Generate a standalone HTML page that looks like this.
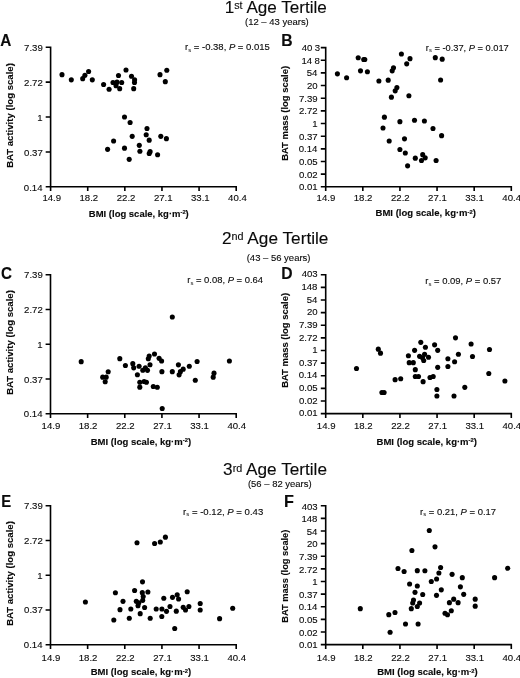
<!DOCTYPE html><html><head><meta charset="utf-8"><style>html,body{margin:0;padding:0;background:#fff}svg{display:block;filter:grayscale(1)}text{font-family:"Liberation Sans",sans-serif;fill:#0a0a0a;stroke:#0a0a0a;stroke-width:0.12px}</style></head><body>
<svg width="520" height="678" viewBox="0 0 520 678">
<rect width="520" height="678" fill="#fff"/>
<text transform="translate(224.71 12.90) scale(1.0309 1)" font-size="16.6">1<tspan font-size="10.4" dy="-3.9">st</tspan><tspan dy="3.9"> Age Tertile</tspan></text>
<text transform="translate(245.00 25.00) scale(1.0097 1)" font-size="9.4">(12 – 43 years)</text>
<text transform="translate(221.97 244.10) scale(1.0371 1)" font-size="16.6">2<tspan font-size="10.4" dy="-3.9">nd</tspan><tspan dy="3.9"> Age Tertile</tspan></text>
<text transform="translate(246.70 260.60) scale(1.0089 1)" font-size="9.4">(43 – 56 years)</text>
<text transform="translate(223.12 475.40) scale(1.0365 1)" font-size="16.6">3<tspan font-size="10.4" dy="-3.9">rd</tspan><tspan dy="3.9"> Age Tertile</tspan></text>
<text transform="translate(247.90 487.30) scale(1.0081 1)" font-size="9.4">(56 – 82 years)</text>
<path d="M50.6 46.5V186.8H237.0M45.70 47.30H50.6M45.70 82.17H50.6M45.70 117.05H50.6M45.70 151.93H50.6M45.70 186.80H50.6M50.60 186.8V191.10M87.72 186.8V191.10M124.84 186.8V191.10M161.96 186.8V191.10M199.08 186.8V191.10M236.20 186.8V191.10" fill="none" stroke="#000" stroke-width="1.6"/>
<text transform="translate(24.05 51.40)" font-size="9.6">7.39</text>
<text transform="translate(24.05 86.28)" font-size="9.6">2.72</text>
<text transform="translate(37.30 121.15)" font-size="9.6">1</text>
<text transform="translate(24.05 156.03)" font-size="9.6">0.37</text>
<text transform="translate(23.80 190.90)" font-size="9.6">0.14</text>
<text transform="translate(42.40 201.20)" font-size="9.6">14.9</text>
<text transform="translate(79.52 201.20)" font-size="9.6">18.2</text>
<text transform="translate(116.77 201.20)" font-size="9.6">22.2</text>
<text transform="translate(153.88 201.20)" font-size="9.6">27.1</text>
<text transform="translate(191.00 201.20)" font-size="9.6">33.1</text>
<text transform="translate(228.12 201.20)" font-size="9.6">40.4</text>
<text transform="translate(88.85 216.60) scale(0.9980 1)" font-size="9.5" font-weight="bold">BMI (log scale, kg·m<tspan font-size="5.8" dy="-2.7">-2</tspan><tspan dy="2.7">)</tspan></text>
<text transform="translate(12.50 167.86) rotate(-90) scale(1.0102 1)" font-size="9.5" font-weight="bold">BAT activity (log scale)</text>
<text transform="translate(0.31 46.00) scale(0.9714 1)" font-size="15.8" font-weight="bold">A</text>
<text transform="translate(185.05 50.20) scale(0.9994 1)" font-size="9.5">r<tspan font-size="6" stroke="none" dy="1.7">s</tspan><tspan dy="-1.7"> = -0.38, </tspan><tspan font-style="italic">P</tspan> = 0.015</text>
<circle cx="62" cy="74.65" r="2.55"/>
<circle cx="71.3" cy="79.85" r="2.55"/>
<circle cx="82.7" cy="78.65" r="2.55"/>
<circle cx="84.9" cy="75.35" r="2.55"/>
<circle cx="88.6" cy="71.55" r="2.55"/>
<circle cx="92.3" cy="79.85" r="2.55"/>
<circle cx="103.6" cy="84.55" r="2.55"/>
<circle cx="109.1" cy="89.25" r="2.55"/>
<circle cx="113" cy="82.45" r="2.55"/>
<circle cx="117" cy="82.15" r="2.55"/>
<circle cx="121.7" cy="82.45" r="2.55"/>
<circle cx="116" cy="85.65" r="2.55"/>
<circle cx="119.7" cy="88.65" r="2.55"/>
<circle cx="118.5" cy="75.45" r="2.55"/>
<circle cx="126" cy="69.95" r="2.55"/>
<circle cx="131.5" cy="76.25" r="2.55"/>
<circle cx="134.6" cy="79.85" r="2.55"/>
<circle cx="134.5" cy="82.55" r="2.55"/>
<circle cx="133.7" cy="88.65" r="2.55"/>
<circle cx="160" cy="74.65" r="2.55"/>
<circle cx="166.8" cy="70.25" r="2.55"/>
<circle cx="165.3" cy="81.65" r="2.55"/>
<circle cx="124.5" cy="117.05" r="2.55"/>
<circle cx="130.1" cy="122.45" r="2.55"/>
<circle cx="147" cy="128.45" r="2.55"/>
<circle cx="146.2" cy="134.75" r="2.55"/>
<circle cx="132.2" cy="136.35" r="2.55"/>
<circle cx="149.2" cy="140.15" r="2.55"/>
<circle cx="160.8" cy="136.35" r="2.55"/>
<circle cx="166.4" cy="138.65" r="2.55"/>
<circle cx="113.6" cy="140.95" r="2.55"/>
<circle cx="139.3" cy="145.35" r="2.55"/>
<circle cx="107.6" cy="149.35" r="2.55"/>
<circle cx="124.5" cy="148.15" r="2.55"/>
<circle cx="139.9" cy="151.25" r="2.55"/>
<circle cx="150.1" cy="151.65" r="2.55"/>
<circle cx="149.2" cy="153.55" r="2.55"/>
<circle cx="157.6" cy="154.75" r="2.55"/>
<circle cx="129.2" cy="159.35" r="2.55"/>
<path d="M325.7 46.800000000000004V186.8H512.1M320.80 47.60H325.7M320.80 60.25H325.7M320.80 72.91H325.7M320.80 85.56H325.7M320.80 98.22H325.7M320.80 110.87H325.7M320.80 123.53H325.7M320.80 136.18H325.7M320.80 148.84H325.7M320.80 161.49H325.7M320.80 174.15H325.7M320.80 186.80H325.7M325.70 186.8V191.10M362.82 186.8V191.10M399.94 186.8V191.10M437.06 186.8V191.10M474.18 186.8V191.10M511.30 186.8V191.10" fill="none" stroke="#000" stroke-width="1.6"/>
<text transform="translate(301.70 51.00)" font-size="9.6">40<tspan dx="2.4">3</tspan></text>
<text transform="translate(301.45 63.65)" font-size="9.6">14<tspan dx="2.4">8</tspan></text>
<text transform="translate(306.70 76.31)" font-size="9.6">54</text>
<text transform="translate(306.95 88.96)" font-size="9.6">20</text>
<text transform="translate(298.95 101.62)" font-size="9.6">7.39</text>
<text transform="translate(298.95 114.27)" font-size="9.6">2.72</text>
<text transform="translate(312.20 126.93)" font-size="9.6">1</text>
<text transform="translate(298.95 139.58)" font-size="9.6">0.37</text>
<text transform="translate(298.70 152.24)" font-size="9.6">0.14</text>
<text transform="translate(298.95 164.89)" font-size="9.6">0.05</text>
<text transform="translate(298.95 177.55)" font-size="9.6">0.02</text>
<text transform="translate(298.95 190.20)" font-size="9.6">0.01</text>
<text transform="translate(316.60 201.25)" font-size="9.6">14.9</text>
<text transform="translate(353.72 201.25)" font-size="9.6">18.2</text>
<text transform="translate(390.96 201.25)" font-size="9.6">22.2</text>
<text transform="translate(428.08 201.25)" font-size="9.6">27.1</text>
<text transform="translate(465.20 201.25)" font-size="9.6">33.1</text>
<text transform="translate(502.32 201.25)" font-size="9.6">40.4</text>
<text transform="translate(375.55 216.30) scale(1.0040 1)" font-size="9.5" font-weight="bold">BMI (log scale, kg·m<tspan font-size="5.8" dy="-2.7">-2</tspan><tspan dy="2.7">)</tspan></text>
<text transform="translate(288.40 160.85) rotate(-90) scale(0.9973 1)" font-size="9.5" font-weight="bold">BAT mass (log scale)</text>
<text transform="translate(281.31 46.40) scale(0.9949 1)" font-size="15.8" font-weight="bold">B</text>
<text transform="translate(425.77 50.50) scale(0.9791 1)" font-size="9.5">r<tspan font-size="6" stroke="none" dy="1.7">s</tspan><tspan dy="-1.7"> = -0.37, </tspan><tspan font-style="italic">P</tspan> = 0.017</text>
<circle cx="337.4" cy="73.85" r="2.55"/>
<circle cx="346.6" cy="77.75" r="2.55"/>
<circle cx="358.2" cy="57.75" r="2.55"/>
<circle cx="363.7" cy="59.45" r="2.55"/>
<circle cx="364.8" cy="59.45" r="2.55"/>
<circle cx="360.5" cy="70.85" r="2.55"/>
<circle cx="367.4" cy="71.75" r="2.55"/>
<circle cx="378.9" cy="80.95" r="2.55"/>
<circle cx="388.2" cy="80.15" r="2.55"/>
<circle cx="393.5" cy="67.75" r="2.55"/>
<circle cx="392.2" cy="70.85" r="2.55"/>
<circle cx="401.4" cy="53.95" r="2.55"/>
<circle cx="406.7" cy="63.85" r="2.55"/>
<circle cx="410.0" cy="58.65" r="2.55"/>
<circle cx="396.9" cy="87.55" r="2.55"/>
<circle cx="395.2" cy="90.85" r="2.55"/>
<circle cx="391.4" cy="97.15" r="2.55"/>
<circle cx="408.9" cy="95.75" r="2.55"/>
<circle cx="435.3" cy="57.65" r="2.55"/>
<circle cx="442.2" cy="59.15" r="2.55"/>
<circle cx="440.6" cy="79.95" r="2.55"/>
<circle cx="384.4" cy="117.15" r="2.55"/>
<circle cx="399.9" cy="121.65" r="2.55"/>
<circle cx="414.5" cy="120.25" r="2.55"/>
<circle cx="424.4" cy="120.95" r="2.55"/>
<circle cx="383" cy="127.95" r="2.55"/>
<circle cx="433" cy="128.55" r="2.55"/>
<circle cx="441.6" cy="135.65" r="2.55"/>
<circle cx="404.5" cy="138.85" r="2.55"/>
<circle cx="389.2" cy="140.95" r="2.55"/>
<circle cx="399.9" cy="149.55" r="2.55"/>
<circle cx="405.3" cy="152.95" r="2.55"/>
<circle cx="415.3" cy="158.15" r="2.55"/>
<circle cx="422.7" cy="154.65" r="2.55"/>
<circle cx="425.2" cy="157.85" r="2.55"/>
<circle cx="421.5" cy="160.45" r="2.55"/>
<circle cx="436.1" cy="160.45" r="2.55"/>
<circle cx="407.6" cy="165.85" r="2.55"/>
<path d="M50.5 273.9V413.8H237.0M45.60 274.70H50.5M45.60 309.48H50.5M45.60 344.25H50.5M45.60 379.02H50.5M45.60 413.80H50.5M50.50 413.8V418.10M87.64 413.8V418.10M124.78 413.8V418.10M161.92 413.8V418.10M199.06 413.8V418.10M236.20 413.8V418.10" fill="none" stroke="#000" stroke-width="1.6"/>
<text transform="translate(24.05 278.20)" font-size="9.6">7.39</text>
<text transform="translate(24.05 312.98)" font-size="9.6">2.72</text>
<text transform="translate(37.30 347.75)" font-size="9.6">1</text>
<text transform="translate(24.05 382.52)" font-size="9.6">0.37</text>
<text transform="translate(23.80 417.30)" font-size="9.6">0.14</text>
<text transform="translate(41.60 429.10)" font-size="9.6">14.9</text>
<text transform="translate(78.74 429.10)" font-size="9.6">18.2</text>
<text transform="translate(116.00 429.10)" font-size="9.6">22.2</text>
<text transform="translate(153.14 429.10)" font-size="9.6">27.1</text>
<text transform="translate(190.28 429.10)" font-size="9.6">33.1</text>
<text transform="translate(227.42 429.10)" font-size="9.6">40.4</text>
<text transform="translate(90.75 444.60) scale(1.0030 1)" font-size="9.5" font-weight="bold">BMI (log scale, kg·m<tspan font-size="5.8" dy="-2.7">-2</tspan><tspan dy="2.7">)</tspan></text>
<text transform="translate(12.50 394.86) rotate(-90) scale(1.0102 1)" font-size="9.5" font-weight="bold">BAT activity (log scale)</text>
<text transform="translate(0.98 278.90) scale(0.9659 1)" font-size="15.8" font-weight="bold">C</text>
<text transform="translate(187.25 282.80) scale(0.9934 1)" font-size="9.5">r<tspan font-size="6" stroke="none" dy="1.7">s</tspan><tspan dy="-1.7"> = 0.08, </tspan><tspan font-style="italic">P</tspan> = 0.64</text>
<circle cx="81.2" cy="361.65" r="2.55"/>
<circle cx="119.8" cy="358.65" r="2.55"/>
<circle cx="125.4" cy="365.55" r="2.55"/>
<circle cx="108.2" cy="371.75" r="2.55"/>
<circle cx="102.7" cy="377.15" r="2.55"/>
<circle cx="106.2" cy="377.15" r="2.55"/>
<circle cx="105.2" cy="381.75" r="2.55"/>
<circle cx="132.8" cy="363.65" r="2.55"/>
<circle cx="133.7" cy="367.85" r="2.55"/>
<circle cx="139.1" cy="366.25" r="2.55"/>
<circle cx="137.4" cy="374.75" r="2.55"/>
<circle cx="142.8" cy="370.25" r="2.55"/>
<circle cx="145.4" cy="367.85" r="2.55"/>
<circle cx="147.5" cy="370.35" r="2.55"/>
<circle cx="150" cy="364.75" r="2.55"/>
<circle cx="149.2" cy="355.95" r="2.55"/>
<circle cx="148.3" cy="358.75" r="2.55"/>
<circle cx="154.5" cy="354.05" r="2.55"/>
<circle cx="159.1" cy="358.35" r="2.55"/>
<circle cx="161.6" cy="360.95" r="2.55"/>
<circle cx="161.9" cy="371.65" r="2.55"/>
<circle cx="172.3" cy="371.65" r="2.55"/>
<circle cx="178.4" cy="364.85" r="2.55"/>
<circle cx="183.2" cy="369.15" r="2.55"/>
<circle cx="180.4" cy="371.65" r="2.55"/>
<circle cx="179.1" cy="374.85" r="2.55"/>
<circle cx="139.8" cy="382.25" r="2.55"/>
<circle cx="139.8" cy="387.15" r="2.55"/>
<circle cx="144.1" cy="381.45" r="2.55"/>
<circle cx="146.4" cy="382.25" r="2.55"/>
<circle cx="153.3" cy="386.55" r="2.55"/>
<circle cx="157.3" cy="387.25" r="2.55"/>
<circle cx="162.2" cy="408.55" r="2.55"/>
<circle cx="172.3" cy="316.95" r="2.55"/>
<circle cx="189.3" cy="366.25" r="2.55"/>
<circle cx="197.1" cy="361.55" r="2.55"/>
<circle cx="195.3" cy="380.25" r="2.55"/>
<circle cx="214" cy="373.15" r="2.55"/>
<circle cx="213.2" cy="377.15" r="2.55"/>
<circle cx="229.4" cy="361.05" r="2.55"/>
<path d="M325.7 273.9V413.6H512.1M320.80 274.70H325.7M320.80 287.33H325.7M320.80 299.95H325.7M320.80 312.58H325.7M320.80 325.21H325.7M320.80 337.84H325.7M320.80 350.46H325.7M320.80 363.09H325.7M320.80 375.72H325.7M320.80 388.35H325.7M320.80 400.97H325.7M320.80 413.60H325.7M325.70 413.6V417.90M362.82 413.6V417.90M399.94 413.6V417.90M437.06 413.6V417.90M474.18 413.6V417.90M511.30 413.6V417.90" fill="none" stroke="#000" stroke-width="1.6"/>
<text transform="translate(301.70 277.40)" font-size="9.6">403</text>
<text transform="translate(301.45 290.03)" font-size="9.6">148</text>
<text transform="translate(306.70 302.65)" font-size="9.6">54</text>
<text transform="translate(306.95 315.28)" font-size="9.6">20</text>
<text transform="translate(298.95 327.91)" font-size="9.6">7.39</text>
<text transform="translate(298.95 340.54)" font-size="9.6">2.72</text>
<text transform="translate(312.20 353.16)" font-size="9.6">1</text>
<text transform="translate(298.95 365.79)" font-size="9.6">0.37</text>
<text transform="translate(298.70 378.42)" font-size="9.6">0.14</text>
<text transform="translate(298.95 391.05)" font-size="9.6">0.05</text>
<text transform="translate(298.95 403.67)" font-size="9.6">0.02</text>
<text transform="translate(298.95 416.30)" font-size="9.6">0.01</text>
<text transform="translate(316.80 429.20)" font-size="9.6">14.9</text>
<text transform="translate(353.92 429.20)" font-size="9.6">18.2</text>
<text transform="translate(391.17 429.20)" font-size="9.6">22.2</text>
<text transform="translate(428.29 429.20)" font-size="9.6">27.1</text>
<text transform="translate(465.41 429.20)" font-size="9.6">33.1</text>
<text transform="translate(502.53 429.20)" font-size="9.6">40.4</text>
<text transform="translate(376.55 444.60) scale(1.0040 1)" font-size="9.5" font-weight="bold">BMI (log scale, kg·m<tspan font-size="5.8" dy="-2.7">-2</tspan><tspan dy="2.7">)</tspan></text>
<text transform="translate(288.40 387.85) rotate(-90) scale(0.9973 1)" font-size="9.5" font-weight="bold">BAT mass (log scale)</text>
<text transform="translate(281.31 279.20) scale(0.9949 1)" font-size="15.8" font-weight="bold">D</text>
<text transform="translate(425.35 283.90) scale(0.9940 1)" font-size="9.5">r<tspan font-size="6" stroke="none" dy="1.7">s</tspan><tspan dy="-1.7"> = 0.09, </tspan><tspan font-style="italic">P</tspan> = 0.57</text>
<circle cx="356.5" cy="368.55" r="2.55"/>
<circle cx="378.3" cy="349.15" r="2.55"/>
<circle cx="380.5" cy="353.15" r="2.55"/>
<circle cx="395.1" cy="379.65" r="2.55"/>
<circle cx="400.7" cy="378.75" r="2.55"/>
<circle cx="381.9" cy="392.45" r="2.55"/>
<circle cx="384.1" cy="392.45" r="2.55"/>
<circle cx="408.4" cy="355.75" r="2.55"/>
<circle cx="409.2" cy="362.65" r="2.55"/>
<circle cx="413.3" cy="362.65" r="2.55"/>
<circle cx="414.6" cy="350.35" r="2.55"/>
<circle cx="415.3" cy="369.65" r="2.55"/>
<circle cx="415.3" cy="376.55" r="2.55"/>
<circle cx="418.5" cy="376.55" r="2.55"/>
<circle cx="420.8" cy="342.35" r="2.55"/>
<circle cx="425.4" cy="347.25" r="2.55"/>
<circle cx="419.6" cy="356.35" r="2.55"/>
<circle cx="424.6" cy="354.35" r="2.55"/>
<circle cx="422.5" cy="357.85" r="2.55"/>
<circle cx="423.7" cy="360.55" r="2.55"/>
<circle cx="428.5" cy="357.25" r="2.55"/>
<circle cx="423.1" cy="381.65" r="2.55"/>
<circle cx="434.6" cy="344.85" r="2.55"/>
<circle cx="437.7" cy="350.35" r="2.55"/>
<circle cx="437.7" cy="367.35" r="2.55"/>
<circle cx="430" cy="377.45" r="2.55"/>
<circle cx="433.2" cy="376.55" r="2.55"/>
<circle cx="436.9" cy="389.55" r="2.55"/>
<circle cx="436.9" cy="395.95" r="2.55"/>
<circle cx="447.9" cy="358.75" r="2.55"/>
<circle cx="447.9" cy="366.55" r="2.55"/>
<circle cx="454.6" cy="361.75" r="2.55"/>
<circle cx="458.4" cy="354.25" r="2.55"/>
<circle cx="455.5" cy="337.85" r="2.55"/>
<circle cx="454" cy="395.95" r="2.55"/>
<circle cx="471.1" cy="343.95" r="2.55"/>
<circle cx="472.5" cy="356.45" r="2.55"/>
<circle cx="489.5" cy="349.55" r="2.55"/>
<circle cx="488.8" cy="373.55" r="2.55"/>
<circle cx="504.9" cy="380.95" r="2.55"/>
<circle cx="464.8" cy="387.35" r="2.55"/>
<path d="M50.5 505.0V644.8H237.0M45.60 505.80H50.5M45.60 540.55H50.5M45.60 575.30H50.5M45.60 610.05H50.5M45.60 644.80H50.5M50.50 644.8V649.10M87.64 644.8V649.10M124.78 644.8V649.10M161.92 644.8V649.10M199.06 644.8V649.10M236.20 644.8V649.10" fill="none" stroke="#000" stroke-width="1.6"/>
<text transform="translate(24.05 509.10)" font-size="9.6">7.39</text>
<text transform="translate(24.05 543.85)" font-size="9.6">2.72</text>
<text transform="translate(37.30 578.60)" font-size="9.6">1</text>
<text transform="translate(24.05 613.35)" font-size="9.6">0.37</text>
<text transform="translate(23.80 648.10)" font-size="9.6">0.14</text>
<text transform="translate(41.60 660.50)" font-size="9.6">14.9</text>
<text transform="translate(78.74 660.50)" font-size="9.6">18.2</text>
<text transform="translate(116.00 660.50)" font-size="9.6">22.2</text>
<text transform="translate(153.14 660.50)" font-size="9.6">27.1</text>
<text transform="translate(190.28 660.50)" font-size="9.6">33.1</text>
<text transform="translate(227.42 660.50)" font-size="9.6">40.4</text>
<text transform="translate(90.75 675.40) scale(1.0030 1)" font-size="9.5" font-weight="bold">BMI (log scale, kg·m<tspan font-size="5.8" dy="-2.7">-2</tspan><tspan dy="2.7">)</tspan></text>
<text transform="translate(12.50 625.86) rotate(-90) scale(1.0102 1)" font-size="9.5" font-weight="bold">BAT activity (log scale)</text>
<text transform="translate(1.16 507.00) scale(0.9444 1)" font-size="15.8" font-weight="bold">E</text>
<text transform="translate(182.99 514.70) scale(1.0096 1)" font-size="9.5">r<tspan font-size="6" stroke="none" dy="1.7">s</tspan><tspan dy="-1.7"> = -0.12, </tspan><tspan font-style="italic">P</tspan> = 0.43</text>
<circle cx="137" cy="542.75" r="2.55"/>
<circle cx="154.6" cy="543.45" r="2.55"/>
<circle cx="160.3" cy="541.95" r="2.55"/>
<circle cx="165.4" cy="537.15" r="2.55"/>
<circle cx="142.5" cy="581.85" r="2.55"/>
<circle cx="85.4" cy="601.95" r="2.55"/>
<circle cx="115.4" cy="592.75" r="2.55"/>
<circle cx="134.6" cy="590.45" r="2.55"/>
<circle cx="147.9" cy="592.05" r="2.55"/>
<circle cx="142.3" cy="592.65" r="2.55"/>
<circle cx="143.2" cy="596.45" r="2.55"/>
<circle cx="142.7" cy="600.35" r="2.55"/>
<circle cx="136.3" cy="601.35" r="2.55"/>
<circle cx="138.8" cy="602.85" r="2.55"/>
<circle cx="138" cy="605.75" r="2.55"/>
<circle cx="123" cy="601.35" r="2.55"/>
<circle cx="120" cy="609.65" r="2.55"/>
<circle cx="130.8" cy="608.95" r="2.55"/>
<circle cx="144.6" cy="607.45" r="2.55"/>
<circle cx="140.2" cy="613.65" r="2.55"/>
<circle cx="113.8" cy="619.95" r="2.55"/>
<circle cx="129.3" cy="618.25" r="2.55"/>
<circle cx="150.2" cy="618.25" r="2.55"/>
<circle cx="156.2" cy="609.05" r="2.55"/>
<circle cx="161.9" cy="609.05" r="2.55"/>
<circle cx="166.5" cy="611.35" r="2.55"/>
<circle cx="161.8" cy="616.45" r="2.55"/>
<circle cx="163.8" cy="598.25" r="2.55"/>
<circle cx="170" cy="606.45" r="2.55"/>
<circle cx="172.5" cy="597.35" r="2.55"/>
<circle cx="177.2" cy="594.85" r="2.55"/>
<circle cx="178.6" cy="599.05" r="2.55"/>
<circle cx="187.2" cy="591.75" r="2.55"/>
<circle cx="176.3" cy="611.15" r="2.55"/>
<circle cx="183.2" cy="607.35" r="2.55"/>
<circle cx="185.5" cy="609.95" r="2.55"/>
<circle cx="188.9" cy="606.45" r="2.55"/>
<circle cx="200.2" cy="603.55" r="2.55"/>
<circle cx="200.2" cy="609.95" r="2.55"/>
<circle cx="174.7" cy="628.45" r="2.55"/>
<circle cx="219.6" cy="618.65" r="2.55"/>
<circle cx="232.7" cy="608.25" r="2.55"/>
<path d="M325.7 505.0V644.6H512.1M320.80 505.80H325.7M320.80 518.42H325.7M320.80 531.04H325.7M320.80 543.65H325.7M320.80 556.27H325.7M320.80 568.89H325.7M320.80 581.51H325.7M320.80 594.13H325.7M320.80 606.75H325.7M320.80 619.36H325.7M320.80 631.98H325.7M320.80 644.60H325.7M325.70 644.6V648.90M362.82 644.6V648.90M399.94 644.6V648.90M437.06 644.6V648.90M474.18 644.6V648.90M511.30 644.6V648.90" fill="none" stroke="#000" stroke-width="1.6"/>
<text transform="translate(301.70 509.50)" font-size="9.6">403</text>
<text transform="translate(301.45 522.12)" font-size="9.6">148</text>
<text transform="translate(306.70 534.74)" font-size="9.6">54</text>
<text transform="translate(306.95 547.35)" font-size="9.6">20</text>
<text transform="translate(298.95 559.97)" font-size="9.6">7.39</text>
<text transform="translate(298.95 572.59)" font-size="9.6">2.72</text>
<text transform="translate(312.20 585.21)" font-size="9.6">1</text>
<text transform="translate(298.95 597.83)" font-size="9.6">0.37</text>
<text transform="translate(298.70 610.45)" font-size="9.6">0.14</text>
<text transform="translate(298.95 623.06)" font-size="9.6">0.05</text>
<text transform="translate(298.95 635.68)" font-size="9.6">0.02</text>
<text transform="translate(298.95 648.30)" font-size="9.6">0.01</text>
<text transform="translate(316.80 660.50)" font-size="9.6">14.9</text>
<text transform="translate(353.92 660.50)" font-size="9.6">18.2</text>
<text transform="translate(391.17 660.50)" font-size="9.6">22.2</text>
<text transform="translate(428.29 660.50)" font-size="9.6">27.1</text>
<text transform="translate(465.41 660.50)" font-size="9.6">33.1</text>
<text transform="translate(502.53 660.50)" font-size="9.6">40.4</text>
<text transform="translate(377.25 675.20) scale(1.0040 1)" font-size="9.5" font-weight="bold">BMI (log scale, kg·m<tspan font-size="5.8" dy="-2.7">-2</tspan><tspan dy="2.7">)</tspan></text>
<text transform="translate(287.70 622.73) rotate(-90) scale(0.9782 1)" font-size="9.5" font-weight="bold">BAT mass (log scale)</text>
<text transform="translate(284.08 506.90) scale(1.0250 1)" font-size="15.8" font-weight="bold">F</text>
<text transform="translate(420.05 514.50) scale(0.9967 1)" font-size="9.5">r<tspan font-size="6" stroke="none" dy="1.7">s</tspan><tspan dy="-1.7"> = 0.21, </tspan><tspan font-style="italic">P</tspan> = 0.17</text>
<circle cx="360.3" cy="608.65" r="2.55"/>
<circle cx="411.9" cy="550.55" r="2.55"/>
<circle cx="429.3" cy="530.55" r="2.55"/>
<circle cx="398" cy="568.45" r="2.55"/>
<circle cx="404.1" cy="571.45" r="2.55"/>
<circle cx="417.3" cy="570.65" r="2.55"/>
<circle cx="424.9" cy="570.75" r="2.55"/>
<circle cx="440.6" cy="567.55" r="2.55"/>
<circle cx="438.9" cy="573.05" r="2.55"/>
<circle cx="436.6" cy="579.05" r="2.55"/>
<circle cx="431.3" cy="581.45" r="2.55"/>
<circle cx="409.6" cy="584.05" r="2.55"/>
<circle cx="417.3" cy="586.05" r="2.55"/>
<circle cx="415" cy="592.35" r="2.55"/>
<circle cx="422.7" cy="594.45" r="2.55"/>
<circle cx="441.3" cy="589.85" r="2.55"/>
<circle cx="436.5" cy="595.35" r="2.55"/>
<circle cx="413.5" cy="600.05" r="2.55"/>
<circle cx="412.7" cy="602.95" r="2.55"/>
<circle cx="419.6" cy="603.05" r="2.55"/>
<circle cx="417.3" cy="606.45" r="2.55"/>
<circle cx="411.3" cy="608.65" r="2.55"/>
<circle cx="395" cy="612.45" r="2.55"/>
<circle cx="388.8" cy="614.65" r="2.55"/>
<circle cx="405.5" cy="623.95" r="2.55"/>
<circle cx="418.1" cy="623.95" r="2.55"/>
<circle cx="390.1" cy="632.25" r="2.55"/>
<circle cx="435" cy="546.85" r="2.55"/>
<circle cx="452.1" cy="574.35" r="2.55"/>
<circle cx="462.3" cy="577.65" r="2.55"/>
<circle cx="460.4" cy="586.85" r="2.55"/>
<circle cx="463.7" cy="594.35" r="2.55"/>
<circle cx="453.7" cy="599.15" r="2.55"/>
<circle cx="449.4" cy="602.65" r="2.55"/>
<circle cx="458.1" cy="602.65" r="2.55"/>
<circle cx="475.2" cy="599.15" r="2.55"/>
<circle cx="475.2" cy="606.15" r="2.55"/>
<circle cx="451.3" cy="610.75" r="2.55"/>
<circle cx="445" cy="613.25" r="2.55"/>
<circle cx="447.5" cy="614.75" r="2.55"/>
<circle cx="494.6" cy="577.65" r="2.55"/>
<circle cx="507.7" cy="568.25" r="2.55"/>
</svg></body></html>
